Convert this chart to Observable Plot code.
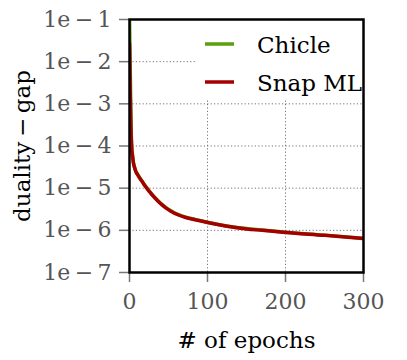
<!DOCTYPE html>
<html>
<head>
<meta charset="utf-8">
<script src="https://cdn.jsdelivr.net/npm/d3@7"></script>
<script src="https://cdn.jsdelivr.net/npm/@observablehq/plot@0.6"></script>
<style>
  html, body { margin: 0; padding: 0; background: white; }
  #chart { position: relative; width: 407px; height: 360px; }
</style>
</head>
<body>
<div id="chart"></div>
<script>
// ---- data ----
const epochs    = [0, 1, 2, 3, 4, 5, 6, 8, 10, 13, 16, 20, 25, 30, 35, 40, 46, 53, 62, 72, 84, 100, 127, 150, 170, 200, 250, 300];
const chicleGap = [0.12, 6e-3, 3e-4, 9e-5, 5.8e-5, 4.1e-5, 3.4e-5, 2.57e-5, 2.19e-5, 1.78e-5, 1.48e-5, 1.15e-5, 8.7e-6, 6.75e-6, 5.37e-6, 4.37e-6, 3.55e-6, 2.92e-6, 2.39e-6, 2.06e-6, 1.82e-6, 1.56e-6, 1.25e-6, 1.1e-6, 1.02e-6, 9.05e-7, 7.7e-7, 6.45e-7];
const snapGap   = [2.7e-2, 1.5e-3, 2e-4, 8e-5, 5.6e-5, 3.98e-5, 3.31e-5, 2.51e-5, 2.14e-5, 1.74e-5, 1.45e-5, 1.12e-5, 8.5e-6, 6.6e-6, 5.25e-6, 4.27e-6, 3.47e-6, 2.85e-6, 2.34e-6, 2.02e-6, 1.78e-6, 1.53e-6, 1.23e-6, 1.08e-6, 1.0e-6, 8.9e-7, 7.6e-7, 6.4e-7];
const seriesNames = ["Chicle", "Snap ML"];
const seriesColors = ["#58a00e", "#a50000"];
const xTicks = [0, 100, 200, 300];
const yTicks = [1e-7, 1e-6, 1e-5, 1e-4, 1e-3, 1e-2, 1e-1];
const yTickLabels = ["1e\u2009\u2212\u20097", "1e\u2009\u2212\u20096", "1e\u2009\u2212\u20095", "1e\u2009\u2212\u20094", "1e\u2009\u2212\u20093", "1e\u2009\u2212\u20092", "1e\u2009\u2212\u20091"];
const xLabel = "# of epochs";
const yLabel = "duality\u2009\u2212\u2009gap";

const rows = [];
epochs.forEach((e, i) => {
  rows.push({epoch: e, gap: chicleGap[i], series: seriesNames[0]});
});
epochs.forEach((e, i) => {
  rows.push({epoch: e, gap: snapGap[i], series: seriesNames[1]});
});

const fmtY = d => yTickLabels[yTicks.findIndex(t => Math.abs(Math.log10(t) - Math.log10(d)) < 1e-6)];
const font = "'DejaVu Serif', serif";
const plot = Plot.plot({
  width: 407,
  height: 360,
  marginLeft: 129,
  marginRight: 44,
  marginTop: 19,
  marginBottom: 88,
  style: {fontFamily: font, fontSize: "22px", color: "#555", background: "white", overflow: "visible"},
  x: {domain: [0, 300], ticks: xTicks, label: null},
  y: {type: "log", domain: [1e-7, 1e-1], ticks: yTicks, label: null, tickFormat: fmtY},
  color: {domain: seriesNames, range: seriesColors},
  marks: [
    Plot.gridX(xTicks.slice(1, -1), {stroke: "#666", strokeOpacity: 0.9, strokeDasharray: "1.2,2.2", strokeWidth: 1}),
    Plot.gridY(yTicks.slice(1, -1), {stroke: "#666", strokeOpacity: 0.9, strokeDasharray: "1.2,2.2", strokeWidth: 1}),
    Plot.line(rows, {x: "epoch", y: "gap", z: "series", stroke: "series", strokeWidth: 3.5, clip: true, curve: "monotone-x"}),
    Plot.axisX({ticks: xTicks, tickSize: 10, tickPadding: 11, stroke: "#777", strokeWidth: 1.5, fill: "#555", fontSize: 22, label: null}),
    Plot.axisY({ticks: yTicks, tickSize: 10, tickPadding: 8, stroke: "#777", strokeWidth: 1.5, fill: "#555", fontSize: 22, label: null, tickFormat: fmtY}),
    Plot.frame({stroke: "black", strokeWidth: 2.5}),
    Plot.text([xLabel], {frameAnchor: "bottom", dy: 68, lineAnchor: "middle", textAnchor: "middle", fill: "black", fontSize: 23, fontFamily: font}),
    Plot.text([yLabel], {frameAnchor: "left", dx: -107, rotate: -90, lineAnchor: "middle", textAnchor: "middle", fill: "black", fontSize: 23, fontFamily: font})
  ]
});

document.getElementById("chart").appendChild(plot);

// legend (inside plot, top-right, white background)
const svg = d3.select(plot);
const lg = svg.append("g").attr("text-anchor", "start");
lg.append("rect").attr("x", 197).attr("y", 21).attr("width", 165).attr("height", 78).attr("fill", "white");
seriesNames.forEach((name, i) => {
  const cy = 44 + i * 38;
  lg.append("line").attr("x1", 205).attr("x2", 234).attr("y1", cy).attr("y2", cy)
    .attr("stroke", seriesColors[i]).attr("stroke-width", 3.5);
  lg.append("text").attr("x", 257).attr("y", cy + 9).attr("text-anchor", "start").text(name)
    .attr("fill", "black").attr("font-family", font).attr("font-size", 23);
});
</script>
</body>
</html>
